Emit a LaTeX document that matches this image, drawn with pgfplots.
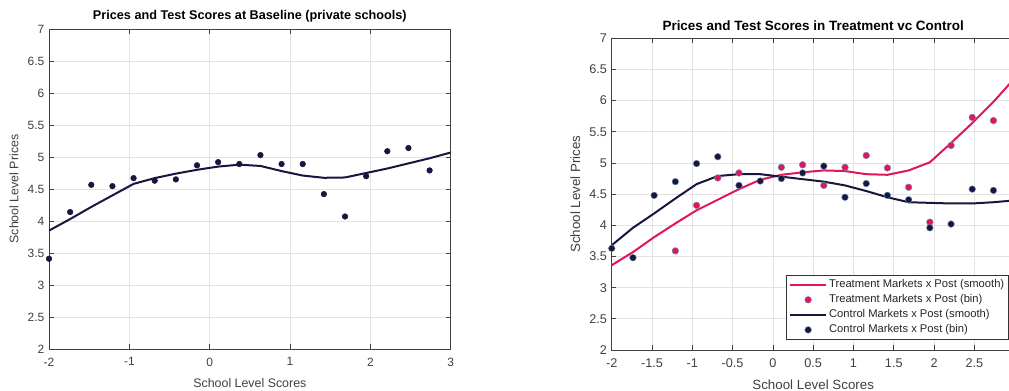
\documentclass[border=0pt]{standalone}
\usepackage{pgfplots}
\pgfplotsset{compat=1.18}
\usepackage{fontspec}
\setmainfont{Liberation Sans}
\definecolor{navy}{HTML}{16163E}
\definecolor{pinkred}{HTML}{E2145C}
\definecolor{edgeblue}{HTML}{6E90B0}
\definecolor{axgray}{HTML}{404040}

\pgfplotstableread{
x y
-2.0000 3.41
-1.7368 4.14
-1.4737 4.565
-1.2105 4.545
-0.9474 4.67
-0.6842 4.63
-0.4211 4.65
-0.1579 4.87
0.1053 4.92
0.3684 4.89
0.6316 5.03
0.8947 4.89
1.1579 4.89
1.4211 4.42
1.6842 4.07
1.9474 4.70
2.2105 5.09
2.4737 5.14
2.7368 4.79
}\baselinebin

\pgfplotstableread{
x y
-2.0000 3.85
-1.7368 4.03
-1.4737 4.22
-1.2105 4.40
-0.9474 4.58
-0.6842 4.67
-0.4211 4.74
-0.1579 4.80
0.1053 4.85
0.3684 4.88
0.6316 4.86
0.8947 4.78
1.1579 4.71
1.4211 4.675
1.6842 4.68
1.9474 4.75
2.2105 4.82
2.4737 4.90
2.7368 4.98
3.0000 5.07
}\baselinesmooth

\pgfplotstableread{
x y
-1.2105 3.59
-0.9474 4.32
-0.6842 4.76
-0.4211 4.84
0.1053 4.93
0.3684 4.97
0.6316 4.64
0.8947 4.93
1.1579 5.12
1.4211 4.92
1.6842 4.61
1.9474 4.05
2.2105 5.28
2.4737 5.73
2.7368 5.68
}\treatbin

\pgfplotstableread{
x y
-2.0000 3.63
-1.7368 3.48
-1.4737 4.48
-1.2105 4.70
-0.9474 4.99
-0.6842 5.10
-0.4211 4.64
-0.1579 4.71
0.1053 4.75
0.3684 4.84
0.6316 4.95
0.8947 4.45
1.1579 4.67
1.4211 4.48
1.6842 4.41
1.9474 3.96
2.2105 4.02
2.4737 4.58
2.7368 4.56
}\controlbin

\pgfplotstableread{
x y
-2.0000 3.36
-1.7368 3.57
-1.4737 3.81
-1.2105 4.03
-0.9474 4.24
-0.6842 4.41
-0.4211 4.58
-0.1579 4.73
0.1053 4.81
0.3684 4.85
0.6316 4.88
0.8947 4.87
1.1579 4.82
1.4211 4.81
1.6842 4.88
1.9474 5.01
2.2105 5.32
2.4737 5.64
2.7368 5.98
3.0000 6.36
}\treatsmooth

\pgfplotstableread{
x y
-2.0000 3.68
-1.7368 3.96
-1.4737 4.19
-1.2105 4.43
-0.9474 4.66
-0.6842 4.79
-0.4211 4.82
-0.1579 4.82
0.1053 4.78
0.3684 4.74
0.6316 4.70
0.8947 4.64
1.1579 4.55
1.4211 4.45
1.6842 4.37
1.9474 4.36
2.2105 4.35
2.4737 4.35
2.7368 4.37
3.0000 4.40
}\controlsmooth

\pgfplotsset{
  matlab/.style={
    scale only axis,
    anchor=south west,
    grid=major,
    major grid style={gray!22, line width=0.5pt},
    axis line style={axgray, line width=0.6pt},
    tick style={axgray, line width=0.6pt},
    major tick length=3.5pt,
    tick align=inside,
    ticklabel style={text=axgray},
    xticklabel style={yshift=-3pt},
    label style={text=axgray},
    /pgf/number format/assume math mode=true,
    ymin=2, ymax=7,
    ytick={2,2.5,...,7},
    xmin=-2, xmax=3,
    clip=true,
  }
}

\begin{document}
\begin{tikzpicture}
% left axis
\begin{axis}[matlab,
  at={(36.75pt,31.5pt)},
  width=301.3pt, height=240pt,
  xtick={-2,-1,0,1,2,3},
  ticklabel style={font=\fontsize{9}{10}\selectfont},
  label style={font=\fontsize{9.3}{10}\selectfont},
  title style={font=\bfseries\fontsize{9.5}{11}\selectfont, yshift=-4.5pt},
  title={Prices and Test Scores at Baseline (private schools)},
  xlabel={School Level Scores},
  ylabel={School Level Prices},
  xlabel style={yshift=-2pt},
  ylabel style={yshift=0pt},
]
\addplot[navy, line width=1.5pt, no markers] table[x=x,y=y] {\baselinesmooth};
\addplot[only marks, mark=*, mark size=2.1pt, mark options={fill=navy, draw=navy}] table[x=x,y=y] {\baselinebin};
\end{axis}

% right axis
\begin{axis}[matlab,
  at={(458.8pt,30.75pt)},
  width=302.2pt, height=233.8pt,
  xtick={-2,-1.5,...,3},
  ticklabel style={font=\fontsize{9.5}{10}\selectfont},
  label style={font=\fontsize{10}{11}\selectfont},
  title style={font=\bfseries\fontsize{10.1}{11}\selectfont, yshift=-3.5pt},
  title={Prices and Test Scores in Treatment vc Control},
  xlabel={School Level Scores},
  ylabel={School Level Prices},
  xlabel style={yshift=-2pt},
  ylabel style={yshift=0pt},
  legend cell align=left,
  legend style={at={(0.4326,0.032)}, anchor=south west,
    font=\fontsize{8.4}{10.5}\selectfont, draw=black!80, line width=0.6pt,
    inner xsep=2pt, inner ysep=1.5pt, row sep=-0.3pt,
    nodes={inner xsep=1.5pt, text=black!85}},
  legend image code/.code={\draw[mark repeat=2,mark phase=2,#1] plot coordinates {(0pt,0pt) (13.5pt,0pt) (27pt,0pt)};},
]
\addplot[pinkred, line width=1.5pt, no markers] table[x=x,y=y] {\treatsmooth};
\addlegendentry{Treatment Markets x Post (smooth)}
\addplot[only marks, mark=*, mark size=2.5pt, mark options={fill=pinkred, draw=edgeblue, line width=0.35pt}] table[x=x,y=y] {\treatbin};
\addlegendentry{Treatment Markets x Post (bin)}
\addplot[navy, line width=1.5pt, no markers] table[x=x,y=y] {\controlsmooth};
\addlegendentry{Control Markets x Post (smooth)}
\addplot[only marks, mark=*, mark size=2.5pt, mark options={fill=navy, draw=edgeblue, line width=0.35pt}] table[x=x,y=y] {\controlbin};
\addlegendentry{Control Markets x Post (bin)}
\end{axis}

\pgfresetboundingbox
\useasboundingbox (0pt,0pt) rectangle (756.75pt,293.25pt);
\end{tikzpicture}
\end{document}
